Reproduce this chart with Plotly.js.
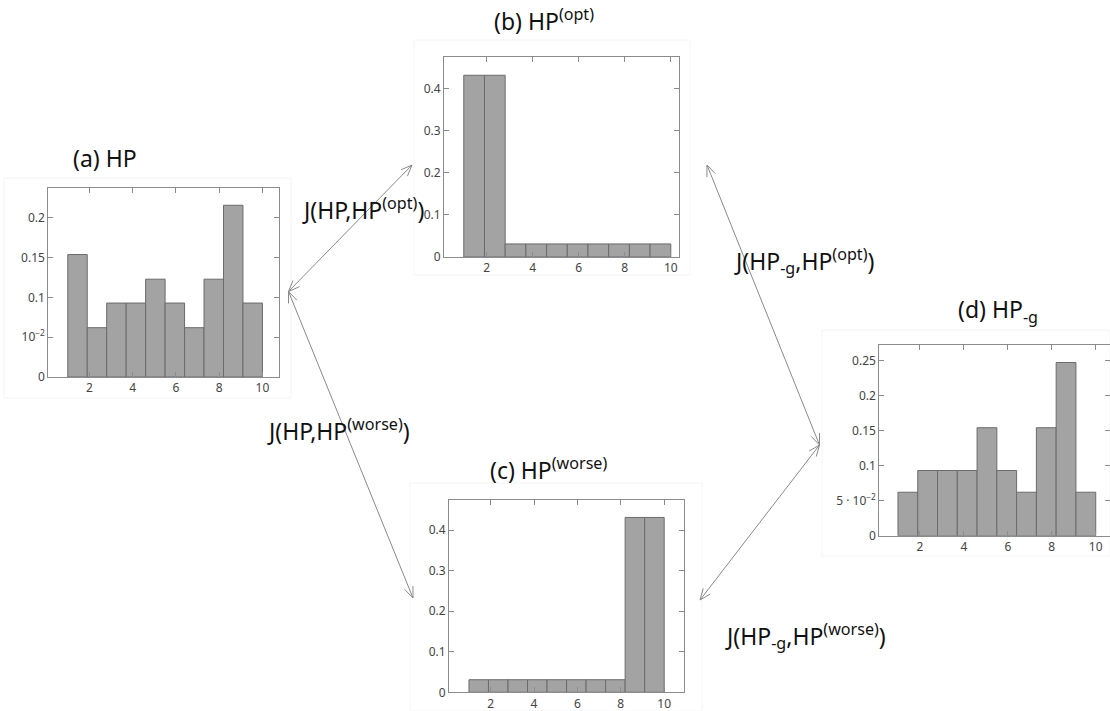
<!DOCTYPE html>
<html><head><meta charset="utf-8">
<script src="https://cdn.plot.ly/plotly-3.0.1.min.js"></script>
<style>html,body{margin:0;padding:0;background:#fff;}#chart{width:1110px;height:711px;}</style>
</head><body><div id="chart"></div>
<script>
// ---- data (density histograms, 10 bins of width 0.9 starting at 1) ----
const hpValues      = [0.154, 0.062, 0.093, 0.093, 0.123, 0.093, 0.062, 0.123, 0.216, 0.093];
const hpOptValues   = [0.431, 0.431, 0.031, 0.031, 0.031, 0.031, 0.031, 0.031, 0.031, 0.031];
const hpWorseValues = [0.031, 0.031, 0.031, 0.031, 0.031, 0.031, 0.031, 0.031, 0.431, 0.431];
const hpGValues     = [0.062, 0.093, 0.093, 0.093, 0.154, 0.093, 0.062, 0.154, 0.247, 0.062];
const binStart = 1, binWidth = 0.9;

const xTickVals = [2, 4, 6, 8, 10];
const xTickText = ['2', '4', '6', '8', '10'];
const yTicksA = [0, 0.05, 0.1, 0.15, 0.2];
const yTextA  = ['0', '10<sup>−2</sup>', '0.1', '0.15', '0.2'];
const yTicksBC = [0, 0.1, 0.2, 0.3, 0.4];
const yTextBC  = ['0', '0.1', '0.2', '0.3', '0.4'];
const yTicksD = [0, 0.05, 0.1, 0.15, 0.2, 0.25];
const yTextD  = ['0', '5 · 10<sup>−2</sup>', '0.1', '0.15', '0.2', '0.25'];

const titles = {
  a: '(a) HP',
  b: '(b) HP<sup>(opt)</sup>',
  c: '(c) HP<sup>(worse)</sup>',
  d: '(d) HP<sub>-g</sub>'
};
const jLabels = {
  hpOpt: 'J(HP,HP<sup>(opt)</sup>)',
  hpWorse: 'J(HP,HP<sup>(worse)</sup>)',
  gOpt: 'J(HP<sub>-g</sub>,HP<sup>(opt)</sup>)',
  gWorse: 'J(HP<sub>-g</sub>,HP<sup>(worse)</sup>)'
};

// ---- layout helpers ----
const W = 1110, H = 711;
const px = v => v / W;
const py = v => 1 - v / H;
const TICKFONT = {family: 'Noto Sans, DejaVu Sans, sans-serif', size: 12, color: '#444'};
const AXC = '#8c8c8c';

function bar(values, xa, ya) {
  return {type: 'bar', x0: binStart + binWidth / 2, dx: binWidth, y: values, width: binWidth,
    xaxis: xa, yaxis: ya, marker: {color: '#a3a3a3', line: {color: '#6b6b6b', width: 1}},
    hoverinfo: 'skip'};
}
function xAxis(l, r, range, anchor) {
  return {domain: [px(l), px(r)], range: range, anchor: anchor, tickvals: xTickVals, ticktext: xTickText,
    ticks: 'inside', ticklen: 5, tickcolor: AXC, showline: true, linecolor: AXC, linewidth: 1,
    mirror: 'allticks', showgrid: false, zeroline: false, tickfont: TICKFONT, fixedrange: true};
}
function yAxis(t, b, range, vals, text, anchor) {
  return {domain: [py(b), py(t)], range: range, anchor: anchor, tickvals: vals, ticktext: text,
    ticks: 'inside', ticklen: 5, tickcolor: AXC, showline: true, linecolor: AXC, linewidth: 1,
    mirror: 'allticks', showgrid: false, zeroline: false, tickfont: TICKFONT, fixedrange: true};
}

const data = [
  bar(hpValues, 'x', 'y'),
  bar(hpOptValues, 'x2', 'y2'),
  bar(hpWorseValues, 'x3', 'y3'),
  bar(hpGValues, 'x4', 'y4')
];

// arrows: thin double-headed lines with open V heads
const ARC = '#8a8a8a';
function seg(x1, y1, x2, y2) {
  return {type: 'line', xref: 'paper', yref: 'paper', x0: px(x1), y0: py(y1), x1: px(x2), y1: py(y2),
    line: {color: ARC, width: 1}};
}
function dblArrow(x1, y1, x2, y2) {
  const out = [seg(x1, y1, x2, y2)];
  const L = 12, ang = 22 * Math.PI / 180;
  [[x1, y1, x2, y2], [x2, y2, x1, y1]].forEach(([tx, ty, ox, oy]) => {
    const dx = ox - tx, dy = oy - ty, n = Math.hypot(dx, dy);
    const ux = dx / n, uy = dy / n;
    [ang, -ang].forEach(a => {
      const rx = ux * Math.cos(a) - uy * Math.sin(a);
      const ry = ux * Math.sin(a) + uy * Math.cos(a);
      out.push(seg(tx, ty, tx + L * rx, ty + L * ry));
    });
  });
  return out;
}
function frame(l, t, r, b) {
  return {type: 'rect', xref: 'paper', yref: 'paper', x0: px(l), y0: py(b), x1: px(r), y1: py(t),
    line: {color: '#f4f4f4', width: 1}, fillcolor: 'rgba(0,0,0,0)', layer: 'below'};
}

const shapes = [].concat(
  [frame(4, 178, 291, 398), frame(414, 40, 690, 275), frame(410, 483, 702, 711), frame(822, 330, 1110, 556)],
  dblArrow(288.5, 291.5, 412, 165),
  dblArrow(288.5, 291.5, 413, 598),
  dblArrow(707, 165, 819.5, 445),
  dblArrow(819.5, 445, 700, 600)
);

const LBL = {family: 'Noto Sans, Open Sans, sans-serif', size: 23, color: '#111'};
function note(text, x, y, xanchor) {
  return {text: text, xref: 'paper', yref: 'paper', x: px(x), y: py(y), xanchor: xanchor || 'center',
    yanchor: 'middle', showarrow: false, font: LBL};
}
const annotations = [
  note(titles.a, 105, 158),
  note(titles.b, 544, 20),
  note(titles.c, 548, 469),
  note(titles.d, 998, 310),
  note(jLabels.hpOpt, 300, 209, 'left'),
  note(jLabels.gOpt, 732, 261, 'left'),
  note(jLabels.hpWorse, 265, 430, 'left'),
  note(jLabels.gWorse, 723, 636, 'left')
];

const layout = {
  width: W, height: H, margin: {l: 0, r: 0, t: 0, b: 0},
  paper_bgcolor: '#fff', plot_bgcolor: '#fff', showlegend: false, bargap: 0,
  xaxis:  xAxis(48.3, 279.3, [0.1, 10.78], 'y'),
  yaxis:  yAxis(188, 377, [0, 0.2377], yTicksA, yTextA, 'x'),
  xaxis2: xAxis(444, 679.3, [0.14, 10.37], 'y2'),
  yaxis2: yAxis(56.7, 257, [0, 0.475], yTicksBC, yTextBC, 'x2'),
  xaxis3: xAxis(449, 683.7, [0.08, 10.9], 'y3'),
  yaxis3: yAxis(500, 692.3, [0, 0.474], yTicksBC, yTextBC, 'x3'),
  xaxis4: xAxis(879.3, 1110, [0.15, 10.65], 'y4'),
  yaxis4: yAxis(345, 535.7, [0, 0.272], yTicksD, yTextD, 'x4'),
  shapes: shapes,
  annotations: annotations
};

Plotly.newPlot('chart', data, layout, {staticPlot: true, displayModeBar: false});
</script></body></html>
